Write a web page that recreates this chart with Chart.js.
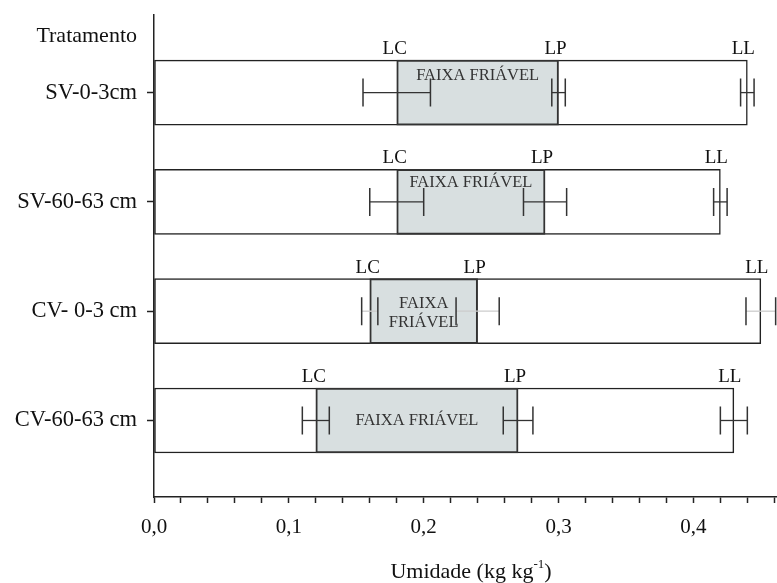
<!DOCTYPE html>
<html lang="pt">
<head>
    <meta charset="UTF-8">
    <title>Faixa friável</title>
    <script src="https://cdn.jsdelivr.net/npm/chart.js"></script>
    <style>
        html, body { margin: 0; padding: 0; background: #fff; }
        #wrap { width: 777px; height: 583px; }
    </style>
</head>
<body>
    <div id="wrap"><canvas id="friavelChart" width="777" height="583"></canvas></div>
    <script>
        // dados (kg kg-1)
        const categories = ['SV-0-3cm', 'SV-60-63 cm', 'CV- 0-3 cm', 'CV-60-63 cm'];
        const lcValues = [0.18, 0.18, 0.16, 0.12];
        const lpValues = [0.30, 0.29, 0.24, 0.27];
        const llValues = [0.44, 0.42, 0.45, 0.43];
        const lcErrors = [0.025, 0.020, 0.006, 0.010];
        const lpErrors = [0.005, 0.016, 0.016, 0.011];
        const llErrors = [0.005, 0.005, 0.011, 0.010];
        const xTickLabels = ['0,0', '0,1', '0,2', '0,3', '0,4'];

        // posicao do texto "FAIXA FRIAVEL" em cada barra (deslocamento vertical, px)
        const faixaOffsets = [-17, -19, null, 0];
        const connectorColors = ['#333', '#333', '#ccc', '#333'];

        const serif = '"Liberation Serif", "DejaVu Serif", serif';
        const barH = 65;

        const errorBars = {
            id: 'errorBars',
            afterDatasetsDraw(chart) {
                const ctx = chart.ctx;
                const xs = chart.scales.x;
                const ys = chart.scales.y;
                ctx.save();
                categories.forEach((cat, i) => {
                    const y = ys.getPixelForValue(i);
                    [[lcValues, lcErrors], [lpValues, lpErrors], [llValues, llErrors]].forEach(([vals, errs]) => {
                        const x0 = xs.getPixelForValue(vals[i] - errs[i]);
                        const x1 = xs.getPixelForValue(vals[i] + errs[i]);
                        ctx.strokeStyle = connectorColors[i];
                        ctx.lineWidth = 1.3;
                        ctx.beginPath();
                        ctx.moveTo(x0, y); ctx.lineTo(x1, y);
                        ctx.stroke();
                        ctx.strokeStyle = '#333';
                        ctx.lineWidth = 1.5;
                        ctx.beginPath();
                        ctx.moveTo(x0, y - 14); ctx.lineTo(x0, y + 14);
                        ctx.moveTo(x1, y - 14); ctx.lineTo(x1, y + 14);
                        ctx.stroke();
                    });

                    // rotulos LC LP LL
                    ctx.fillStyle = '#111';
                    ctx.font = '19px ' + serif;
                    ctx.textAlign = 'center';
                    ctx.textBaseline = 'alphabetic';
                    const top = y - barH / 2 - 6;
                    ctx.fillText('LC', xs.getPixelForValue(lcValues[i]) - 2, top);
                    ctx.fillText('LP', xs.getPixelForValue(lpValues[i]) - 3, top);
                    ctx.fillText('LL', xs.getPixelForValue(llValues[i]) - 4, top);

                    // texto da faixa
                    const cx = (xs.getPixelForValue(lcValues[i]) + xs.getPixelForValue(lpValues[i])) / 2;
                    ctx.fillStyle = '#333';
                    ctx.font = '16.5px ' + serif;
                    ctx.textBaseline = 'middle';
                    if (faixaOffsets[i] === null) {
                        ctx.fillText('FAIXA', cx, y - 8);
                        ctx.fillText('FRIÁVEL', cx, y + 11);
                    } else {
                        ctx.fillText('FAIXA FRIÁVEL', cx, y + faixaOffsets[i]);
                    }
                });

                // cabecalho e titulo do eixo x
                ctx.fillStyle = '#111';
                ctx.font = '22px ' + serif;
                ctx.textAlign = 'right';
                ctx.textBaseline = 'alphabetic';
                ctx.fillText('Tratamento', 137, 42);

                ctx.textAlign = 'left';
                const t1 = 'Umidade (kg kg';
                const w1 = ctx.measureText(t1).width;
                ctx.font = '13px ' + serif;
                const w2 = ctx.measureText('-1').width;
                ctx.font = '22px ' + serif;
                const w3 = ctx.measureText(')').width;
                let sx = 471 - (w1 + w2 + w3) / 2;
                ctx.fillText(t1, sx, 578);
                ctx.font = '13px ' + serif;
                ctx.fillText('-1', sx + w1, 568);
                ctx.font = '22px ' + serif;
                ctx.fillText(')', sx + w1 + w2, 578);
                ctx.restore();
            }
        };

        const ctx = document.getElementById('friavelChart').getContext('2d');
        new Chart(ctx, {
            type: 'bar',
            data: {
                datasets: [{
                    label: 'Faixa friável',
                    data: categories.map((c, i) => ({ y: i, x: [lcValues[i], lpValues[i]] })),
                    backgroundColor: '#d8dfe0',
                    borderColor: '#333',
                    borderWidth: 2,
                    borderSkipped: false,
                    grouped: false,
                    barThickness: barH
                }, {
                    label: 'Limite de liquidez',
                    data: categories.map((c, i) => ({ y: i, x: [0, llValues[i]] })),
                    backgroundColor: '#fff',
                    borderColor: '#222',
                    borderWidth: 1.5,
                    borderSkipped: false,
                    grouped: false,
                    barThickness: barH
                }]
            },
            options: {
                indexAxis: 'y',
                responsive: false,
                animation: false,
                layout: { padding: { top: 15, right: 0, left: 0, bottom: 0 } },
                plugins: {
                    legend: { display: false },
                    tooltip: { enabled: false }
                },
                scales: {
                    x: {
                        type: 'linear',
                        min: 0,
                        max: 0.462,
                        border: { color: '#222', width: 1.5 },
                        grid: { drawOnChartArea: false, tickLength: 6, tickColor: '#222', tickWidth: 1.5 },
                        ticks: {
                            stepSize: 0.02,
                            includeBounds: false,
                            autoSkip: false,
                            maxRotation: 0,
                            padding: 12,
                            color: '#111',
                            font: { family: serif, size: 21 },
                            callback: v => {
                                const k = v * 10;
                                if (Math.abs(k - Math.round(k)) > 1e-6) return '';
                                return xTickLabels[Math.round(k)] || '';
                            }
                        },
                        afterFit: s => { s.height = 86; s.paddingLeft = 0; s.paddingRight = 0; }
                    },
                    y: {
                        type: 'linear',
                        reverse: true,
                        offset: false,
                        min: -0.71,
                        max: 3.70,
                        border: { color: '#222', width: 1.5 },
                        grid: { offset: false, drawOnChartArea: false, tickLength: 7, tickColor: '#222', tickWidth: 1.5 },
                        afterBuildTicks: s => { s.ticks = categories.map((c, i) => ({ value: i })); },
                        ticks: {
                            padding: 10,
                            color: '#111',
                            font: { family: serif, size: 22.5 },
                            callback: v => categories[v]
                        },
                        afterFit: s => { s.width = 154; s.paddingTop = 0; s.paddingBottom = 0; }
                    }
                }
            },
            plugins: [errorBars]
        });
    </script>
</body>
</html>
